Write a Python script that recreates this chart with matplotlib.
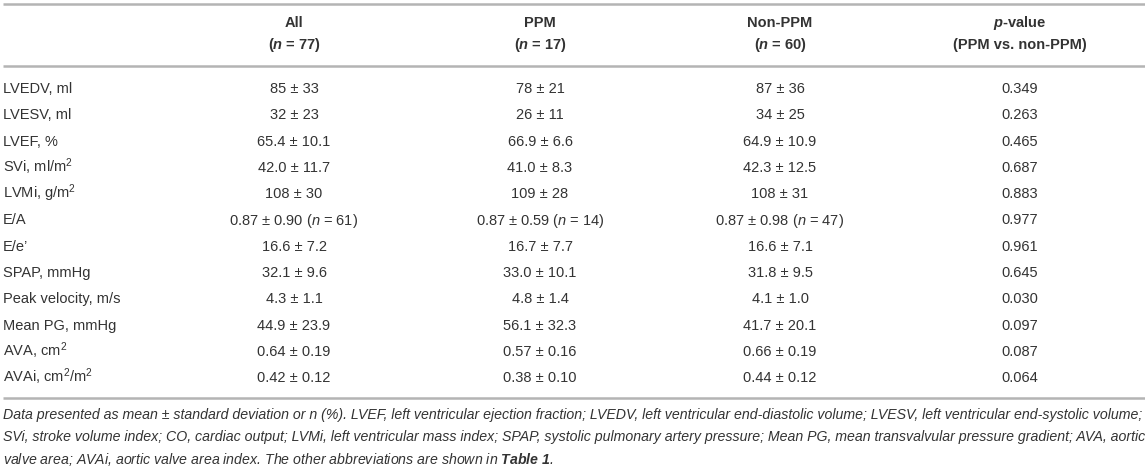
import matplotlib
matplotlib.use("Agg")
import matplotlib.pyplot as plt

plt.rcParams['font.family'] = ['Liberation Sans', 'DejaVu Sans']
plt.rcParams['mathtext.fontset'] = 'custom'
plt.rcParams['mathtext.rm'] = 'Liberation Sans'
plt.rcParams['mathtext.it'] = 'Liberation Sans:italic'
plt.rcParams['mathtext.bf'] = 'Liberation Sans:bold'
plt.rcParams['mathtext.bfit'] = 'Liberation Sans:italic:bold'

PM = " ± "

# table content
headers = ["All", "PPM", "Non-PPM", r"$\mathbfit{p}$-value"]
subheaders = [r"($\mathbfit{n}$ = 77)", r"($\mathbfit{n}$ = 17)", r"($\mathbfit{n}$ = 60)", "(PPM vs. non-PPM)"]

row_labels = ["LVEDV, ml", "LVESV, ml", "LVEF, %", r"SVi, ml/m$^2$", r"LVMi, g/m$^2$", "E/A", "E/e’",
              "SPAP, mmHg", "Peak velocity, m/s", "Mean PG, mmHg", r"AVA, cm$^2$", r"AVAi, cm$^2$/m$^2$"]
all_mean = ["85", "32", "65.4", "42.0", "108", "0.87", "16.6", "32.1", "4.3", "44.9", "0.64", "0.42"]
all_sd = ["33", "23", "10.1", "11.7", "30", r"0.90 ($\mathit{n}$ = 61)", "7.2", "9.6", "1.1", "23.9", "0.19", "0.12"]
ppm_mean = ["78", "26", "66.9", "41.0", "109", "0.87", "16.7", "33.0", "4.8", "56.1", "0.57", "0.38"]
ppm_sd = ["21", "11", "6.6", "8.3", "28", r"0.59 ($\mathit{n}$ = 14)", "7.7", "10.1", "1.4", "32.3", "0.16", "0.10"]
non_mean = ["87", "34", "64.9", "42.3", "108", "0.87", "16.6", "31.8", "4.1", "41.7", "0.66", "0.44"]
non_sd = ["36", "25", "10.9", "12.5", "31", r"0.98 ($\mathit{n}$ = 47)", "7.1", "9.5", "1.0", "20.1", "0.19", "0.12"]
p_values = ["0.349", "0.263", "0.465", "0.687", "0.883", "0.977", "0.961",
            "0.645", "0.030", "0.097", "0.087", "0.064"]

footnote = [
    "Data presented as mean ± standard deviation or n (%). LVEF, left ventricular ejection fraction; "
    "LVEDV, left ventricular end-diastolic volume; LVESV, left ventricular end-systolic volume;",
    "SVi, stroke volume index; CO, cardiac output; LVMi, left ventricular mass index; SPAP, systolic "
    "pulmonary artery pressure; Mean PG, mean transvalvular pressure gradient; AVA, aortic",
    r"valve area; AVAi, aortic valve area index. The other abbreviations are shown in $\mathbfit{Table\ 1}$.",
]

W, H = 1145, 469
fig = plt.figure(figsize=(W / 100, H / 100), dpi=100)
ax = fig.add_axes([0, 0, 1, 1])
ax.set_xlim(0, W)
ax.set_ylim(H, 0)
ax.axis('off')

txt = '#333333'
line_c = '#b4b4b4'
fs = 10.5
col_x = [294, 540, 780, 1020]

for y in (4, 66, 398):
    ax.plot([3, W], [y, y], color=line_c, lw=1.8, solid_capstyle='butt')

for x, h, s in zip(col_x, headers, subheaders):
    ax.text(x, 23, h, ha='center', va='center', fontsize=fs, fontweight='bold', color=txt)
    ax.text(x, 45, s, ha='center', va='center', fontsize=fs, fontweight='bold', color=txt)

cols = [[m + PM + s for m, s in zip(all_mean, all_sd)],
        [m + PM + s for m, s in zip(ppm_mean, ppm_sd)],
        [m + PM + s for m, s in zip(non_mean, non_sd)],
        p_values]

y0, dy = 88, 26.3
for i, lab in enumerate(row_labels):
    y = y0 + i * dy + 5   # baseline
    ax.text(3, y, lab, ha='left', va='baseline', fontsize=fs, color=txt)
    for x, col in zip(col_x, cols):
        ax.text(x, y, col[i], ha='center', va='baseline', fontsize=fs, color=txt)

for j, line in enumerate(footnote):
    ax.text(3, 419 + j * 22.5, line, ha='left', va='baseline', fontsize=10.2,
            fontstyle='italic', color=txt)

fig.savefig("out.png", dpi=100)
